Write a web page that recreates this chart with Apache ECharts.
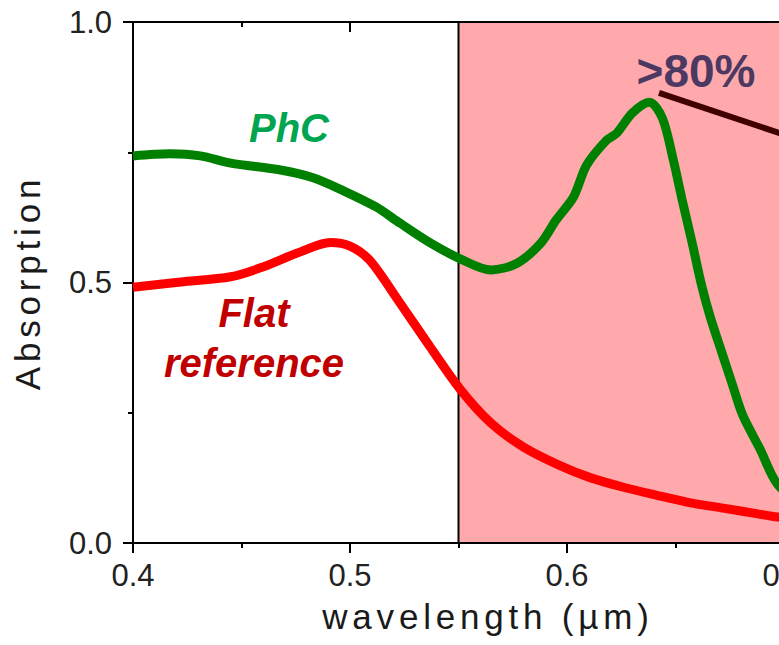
<!DOCTYPE html>
<html>
<head>
<meta charset="utf-8">
<script src="https://cdn.jsdelivr.net/npm/echarts@6/dist/echarts.min.js"></script>
<style>
html,body{margin:0;padding:0;background:#fff;overflow:hidden;width:779px;height:645px;}
#chart{width:1100px;height:645px;}
#chart svg text[style*="35px"]{letter-spacing:4.8px;}
</style>
</head>
<body>
<div id="chart"></div>
<script>
// Wavelength (µm) / absorption samples
const phcWavelength = [0.400,0.417,0.431,0.445,0.468,0.483,0.497,0.512,0.523,0.537,0.551,0.565,0.577,0.588,0.595,0.603,0.609,0.618,0.623,0.630,0.638,0.644,0.649,0.653,0.658,0.662,0.666,0.671,0.676,0.681,0.689,0.697,0.710,0.730];
const phcAbsorption = [0.743,0.747,0.743,0.729,0.716,0.701,0.676,0.645,0.614,0.576,0.545,0.524,0.537,0.576,0.620,0.664,0.725,0.772,0.787,0.825,0.846,0.815,0.735,0.660,0.570,0.495,0.434,0.370,0.307,0.245,0.180,0.113,0.070,0.050];
const flatWavelength = [0.400,0.422,0.445,0.460,0.476,0.491,0.500,0.509,0.522,0.537,0.551,0.565,0.580,0.596,0.611,0.626,0.641,0.657,0.672,0.688,0.697,0.720];
const flatAbsorption = [0.491,0.501,0.511,0.530,0.557,0.577,0.570,0.543,0.467,0.376,0.294,0.230,0.184,0.150,0.125,0.107,0.092,0.077,0.067,0.056,0.050,0.045];
const pointerWavelength = [0.6424,0.6977,0.75];
const pointerAbsorption = [0.864,0.787,0.714];
const shadeRange = [0.55,0.8];
const xTicks = {min:0.4,max:0.8,interval:0.1};
const yTicks = {min:0,max:1,interval:0.5};

const zip = (a,b) => a.map((v,i)=>[v,b[i]]);
const font = "'Liberation Sans', Arial, sans-serif";

const chart = echarts.init(document.getElementById('chart'), null, {renderer:'svg'});
const axisCommon = {
  type:'value', min:xTicks.min, max:xTicks.max, interval:xTicks.interval,
  axisLine:{show:true, lineStyle:{color:'#000', width:2}},
  axisTick:{show:true, length:10, lineStyle:{color:'#000', width:2}},
  minorTick:{show:true, splitNumber:2, length:5, lineStyle:{color:'#000', width:2}},
  splitLine:{show:false}, minorSplitLine:{show:false}
};
chart.setOption({
  animation:false,
  backgroundColor:'#fff',
  grid:{left:133, top:22, bottom:102, width:868, containLabel:false},
  xAxis:[
    Object.assign({}, axisCommon, {
      position:'bottom',
      name:'wavelength (µm)', nameLocation:'middle', nameGap:56,
      nameTextStyle:{fontFamily:font, fontSize:35, color:'#1a1a1a', padding:[0,158,0,0]},
      axisLabel:{show:true, margin:17, fontFamily:font, fontSize:31, color:'#222',
        formatter:v=>v.toFixed(1)}
    }),
    Object.assign({}, axisCommon, {
      position:'top',
      axisTick:{show:true, inside:true, length:10, lineStyle:{color:'#000', width:2}},
      minorTick:{show:true, splitNumber:2, length:5, lineStyle:{color:'#000', width:2}},
      axisLabel:{show:false}
    })
  ],
  yAxis:[{
    type:'value', min:yTicks.min, max:yTicks.max, interval:yTicks.interval,
    name:'Absorption', nameLocation:'middle', nameGap:88,
    nameTextStyle:{fontFamily:font, fontSize:35, color:'#1a1a1a'},
    axisLine:{show:true, lineStyle:{color:'#000', width:2}},
    axisTick:{show:true, length:10, lineStyle:{color:'#000', width:2}},
    minorTick:{show:true, splitNumber:2, length:5, lineStyle:{color:'#000', width:2}},
    splitLine:{show:false},
    axisLabel:{margin:21, fontFamily:font, fontSize:31, color:'#222', formatter:v=>v.toFixed(1)}
  }],
  series:[
    {
      type:'line', name:'shade', data:[], z:1, silent:true,
      markArea:{silent:true,
        itemStyle:{color:'#FFA9AC', borderColor:'#000', borderWidth:2, opacity:1},
        data:[[{xAxis:shadeRange[0], yAxis:yTicks.min},{xAxis:shadeRange[1], yAxis:yTicks.max}]]}
    },
    {
      type:'line', name:'Flat reference', data:zip(flatWavelength, flatAbsorption),
      showSymbol:false, symbol:'none', smooth:0.3, z:3,
      lineStyle:{color:'#FF0000', width:9}
    },
    {
      type:'line', name:'PhC', data:zip(phcWavelength, phcAbsorption),
      showSymbol:false, symbol:'none', smooth:0.3, z:4,
      lineStyle:{color:'#008000', width:9}
    },
    {
      type:'line', name:'pointer', data:zip(pointerWavelength, pointerAbsorption),
      showSymbol:false, symbol:'none', z:5,
      lineStyle:{color:'#400000', width:6}
    }
  ],
  graphic:[
    {type:'text', x:289, y:128, z:10,
      style:{text:'PhC', fill:'#00A550', font:"italic bold 40px 'Liberation Sans', Arial, sans-serif",
        textAlign:'center', textVerticalAlign:'middle'}},
    {type:'text', x:254, y:338, z:10,
      style:{text:'Flat\nreference', fill:'#C00000', font:"italic bold 40px 'Liberation Sans', Arial, sans-serif",
        lineHeight:50, textAlign:'center', textVerticalAlign:'middle'}},
    {type:'text', x:696, y:71, z:10,
      style:{text:'>80%', fill:'#4B3962', font:"bold 46px 'Liberation Sans', Arial, sans-serif",
        textAlign:'center', textVerticalAlign:'middle'}}
  ]
});
</script>
</body>
</html>
